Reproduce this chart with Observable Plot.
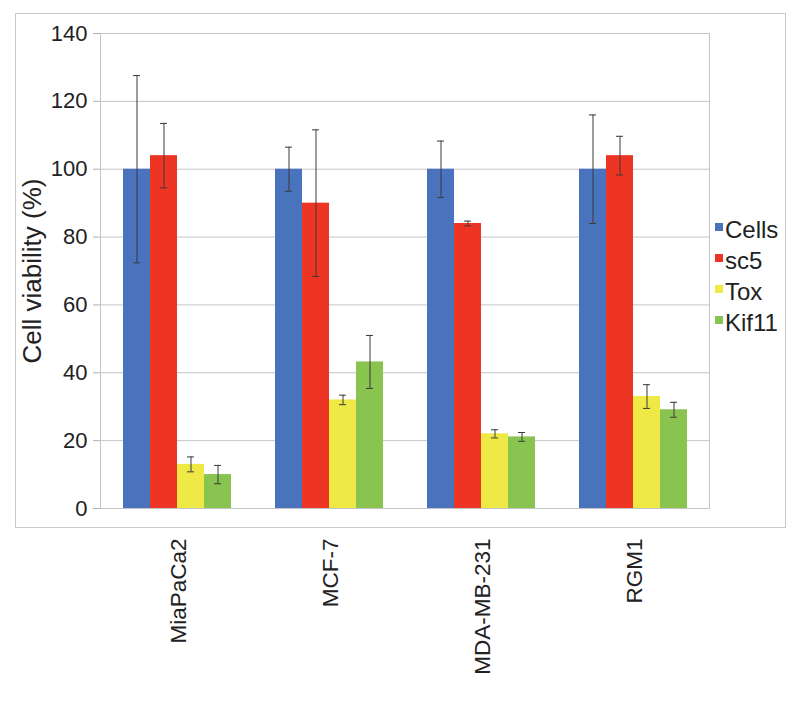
<!DOCTYPE html>
<html><head><meta charset="utf-8">
<script src="https://cdn.jsdelivr.net/npm/d3@7"></script>
<script src="https://cdn.jsdelivr.net/npm/@observablehq/plot@0.6"></script>
<style>
body{margin:0;background:#fff;font-family:"Liberation Sans",Arial,sans-serif;}
#wrap{position:relative;width:800px;height:704px;}
#box{position:absolute;left:15px;top:13px;width:771px;height:515px;border:1.5px solid #c9c9c9;box-sizing:border-box;}
.layer{position:absolute;left:0;top:0;}
#legend{position:absolute;left:715px;top:216px;font-size:24px;color:#222;}
.item{position:relative;height:31px;line-height:27px;padding-left:10px;}
.sw{position:absolute;left:0;top:7px;width:8px;height:8px;}
</style>
</head><body>
<div id="wrap"><div id="box"></div><div id="base" class="layer"></div><div id="chart" class="layer"></div><div id="legend"></div></div>
<script>
const cellLines = ["MiaPaCa2", "MCF-7", "MDA-MB-231", "RGM1"];
const treatments = ["Cells", "sc5", "Tox", "Kif11"];
const colors = ["#4a73be", "#ee3524", "#efe945", "#88c44f"];
const cellsMean = [100, 100, 100, 100];
const cellsErr = [27.6, 6.5, 8.3, 16];
const sc5Mean = [104, 90, 84, 104];
const sc5Err = [9.5, 21.6, 0.7, 5.7];
const toxMean = [13, 32, 22, 33];
const toxErr = [2.2, 1.4, 1.2, 3.5];
const kif11Mean = [10, 43.2, 21.1, 29.1];
const kif11Err = [2.7, 7.8, 1.3, 2.2];
const yTicks = [0, 20, 40, 60, 80, 100, 120, 140];

const means = [cellsMean, sc5Mean, toxMean, kif11Mean];
const errs = [cellsErr, sc5Err, toxErr, kif11Err];
const rows = [];
cellLines.forEach((line, i) => treatments.forEach((t, j) => {
  rows.push({line, treatment: t, mean: means[j][i], lo: means[j][i] - errs[j][i], hi: means[j][i] + errs[j][i]});
}));

const common = {
  width: 800, height: 704,
  marginLeft: 100, marginRight: 91, marginTop: 33, marginBottom: 196,
  style: {fontFamily: "Liberation Sans, Arial, sans-serif", fontSize: "22px", color: "#222", background: "transparent", overflow: "visible"}
};

// background layer: grid, frame, y axis
const base = Plot.plot({
  ...common,
  y: {domain: [0, 140]},
  marks: [
    Plot.gridY(yTicks, {stroke: "#c4c4c4", strokeOpacity: 1}),
    Plot.frame({stroke: "#c4c4c4"}),
    Plot.axisY({ticks: yTicks, tickSize: 7, tickPadding: 6, stroke: "#b0b0b0", label: "Cell viability (%)", labelAnchor: "center", labelArrow: "none", labelOffset: 78})
  ]
});
document.getElementById("base").appendChild(base);
d3.select(base).selectAll('[aria-label="y-axis label"] text').style("font-size", "26px");

// foreground layer: grouped bars with error bars
const chart = Plot.plot({
  ...common,
  fx: {domain: cellLines, paddingInner: 0.28, paddingOuter: 0.14, label: null},
  x: {domain: treatments, padding: 0, axis: null},
  y: {domain: [0, 140], axis: null},
  color: {domain: treatments, range: colors},
  marks: [
    Plot.barY(rows, {fx: "line", x: "treatment", y: "mean", fill: "treatment"}),
    Plot.ruleX(rows, {fx: "line", x: "treatment", y1: "lo", y2: "hi", stroke: "#3a3a3a", strokeWidth: 1}),
    Plot.tickY(rows, {fx: "line", x: "treatment", y: "hi", stroke: "#3a3a3a", insetLeft: 10, insetRight: 10}),
    Plot.tickY(rows, {fx: "line", x: "treatment", y: "lo", stroke: "#3a3a3a", insetLeft: 10, insetRight: 10}),
    Plot.axisFx({anchor: "bottom", tickRotate: -90, tickSize: 0, tickPadding: 30, fontSize: 22.5, dx: 2, label: null})
  ]
});
document.getElementById("chart").appendChild(chart);

const lg = d3.select("#legend");
treatments.forEach((t, j) => {
  const it = lg.append("div").attr("class", "item");
  it.append("span").attr("class", "sw").style("background", colors[j]);
  it.append("span").text(t);
});
</script>
</body></html>
